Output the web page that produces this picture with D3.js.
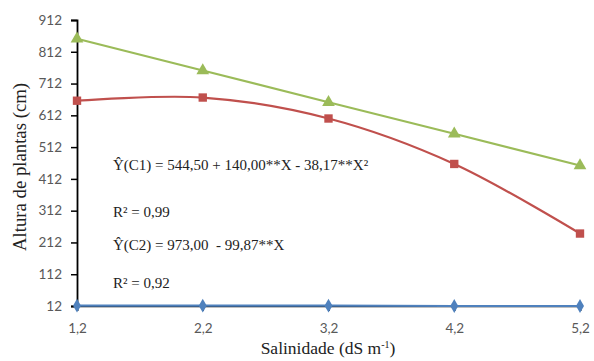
<!DOCTYPE html>
<html>
<head>
<meta charset="utf-8">
<script src="https://cdn.jsdelivr.net/npm/d3@7"></script>
<style>
  body { margin: 0; background: #fff; }
  .tick text { font-family: Lato, "Liberation Sans", sans-serif; font-size: 13.5px; fill: #595959; }
  .serif { font-family: "Liberation Serif", serif; fill: #222; white-space: pre; }
</style>
</head>
<body>
<svg></svg>
<script>
const salinity = [1.2, 2.2, 3.2, 4.2, 5.2]
const c1Values = [658, 668, 602, 459, 240]   // red, quadratic
const c2Values = [853, 753, 653, 554, 454]   // green, linear
const c0Values = [13, 13, 13, 12, 12]        // blue, bottom
const yTicks = [12, 112, 212, 312, 412, 512, 612, 712, 812, 912]
const equations = [
    'Ŷ(C1) = 544,50 + 140,00**X - 38,17**X²',
    'R² = 0,99',
    'Ŷ(C2) = 973,00  - 99,87**X',
    'R² = 0,92'
]

let width = 594
let height = 361
let svg = d3.select('svg').attr('width', width).attr('height', height)

let xScale = d3.scaleLinear().domain([1.2, 5.2]).range([77, 580])
let yScale = d3.scaleLinear().domain([12, 912]).range([306, 20])
let fmt = (d) => d3.format('.1f')(d).replace('.', ',')

// axes
let xAxis = d3.axisBottom(xScale).tickValues(salinity).tickFormat(fmt).tickSize(5).tickPadding(12)
let gx = svg.append('g').attr('transform', 'translate(0,' + yScale(12) + ')').call(xAxis)
gx.select('.domain').attr('stroke', '#000').attr('stroke-width', 1.5)
gx.selectAll('.tick line').attr('stroke', '#000').attr('stroke-width', 1.5)

let yAxis = d3.axisLeft(yScale).tickValues(yTicks).tickSize(6).tickPadding(9)
let gy = svg.append('g').attr('transform', 'translate(' + xScale(1.2) + ',0)').call(yAxis)
gy.select('.domain').attr('stroke', '#000').attr('stroke-width', 1.8)
gy.selectAll('.tick line').attr('stroke', '#000').attr('stroke-width', 1.5)

// series
let series = [
    { values: c2Values, color: '#9BBB59', curve: d3.curveLinear, shape: d3.symbolTriangle, size: 70 },
    { values: c1Values, color: '#C0504D', curve: d3.curveCatmullRom.alpha(0.5), shape: d3.symbolSquare, size: 70 },
    { values: c0Values, color: '#4F81BD', curve: d3.curveLinear, shape: d3.symbolDiamond, size: 55 }
]

let line = d3.line()
    .x((d, i) => xScale(salinity[i]))
    .y((d) => yScale(d))

series.forEach((s) => {
    svg.append('path')
        .datum(s.values)
        .attr('fill', 'none')
        .attr('stroke', s.color)
        .attr('stroke-width', 2.2)
        .attr('d', line.curve(s.curve))

    svg.selectAll(null)
        .data(s.values)
        .enter()
        .append('path')
        .attr('d', d3.symbol().type(s.shape).size(s.size))
        .attr('transform', (d, i) => 'translate(' + xScale(salinity[i]) + ',' + yScale(d) + ')')
        .attr('fill', s.color)
})

// equations
let eqY = [170, 217, 250, 288]
svg.selectAll('.eq')
    .data(equations)
    .enter()
    .append('text')
    .attr('class', 'serif')
    .attr('x', 113)
    .attr('y', (d, i) => eqY[i])
    .style('font-size', '15px')
    .text((d) => d)

// axis titles
svg.append('text')
    .attr('class', 'serif')
    .attr('transform', 'translate(26,167) rotate(-90)')
    .attr('text-anchor', 'middle')
    .attr('textLength', 168)
    .attr('lengthAdjust', 'spacingAndGlyphs')
    .style('font-size', '18px')
    .text('Altura de plantas (cm)')

let xt = svg.append('text')
    .attr('class', 'serif')
    .attr('x', 328)
    .attr('y', 354)
    .attr('text-anchor', 'middle')
    .style('font-size', '17.5px')
xt.append('tspan').text('Salinidade (dS m')
xt.append('tspan').attr('dy', -6).style('font-size', '10px').text('-1')
xt.append('tspan').attr('dy', 6).text(')')
</script>
</body>
</html>
